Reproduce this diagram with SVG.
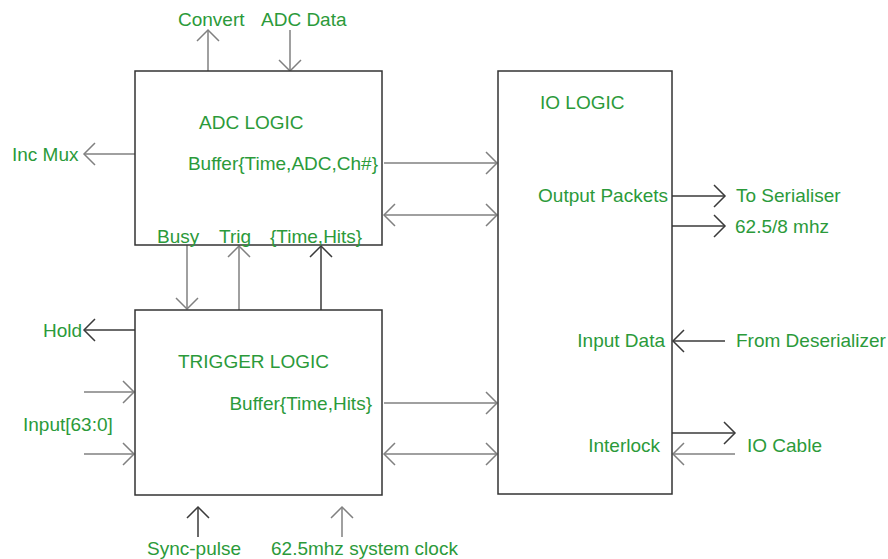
<svg xmlns="http://www.w3.org/2000/svg" width="888" height="559" viewBox="0 0 888 559">
<style>
.box{fill:#fff;stroke:#333;stroke-width:1.5}
.t{font-family:"Liberation Sans",Arial,sans-serif;font-size:19px;fill:#2b9a3a}
.g{stroke:#808080;stroke-width:1.5;fill:none}
.d{stroke:#3a3a3a;stroke-width:1.5;fill:none}
.g.a{marker-end:url(#ag)}
.d.a{marker-end:url(#ad)}
.g.b{marker-start:url(#ag);marker-end:url(#ag)}
</style>
<defs>
<marker id="ag" viewBox="-13 -12 15 24" refX="0" refY="0" markerWidth="15" markerHeight="24" markerUnits="userSpaceOnUse" orient="auto-start-reverse" overflow="visible">
<path d="M-11,-11 L0,0 L-11,11" fill="none" stroke="#808080" stroke-width="1.5"/>
</marker>
<marker id="ad" viewBox="-13 -12 15 24" refX="0" refY="0" markerWidth="15" markerHeight="24" markerUnits="userSpaceOnUse" orient="auto-start-reverse" overflow="visible">
<path d="M-11,-11 L0,0 L-11,11" fill="none" stroke="#3a3a3a" stroke-width="1.5"/>
</marker>
</defs>
<rect width="888" height="559" fill="#fff"/>
<g id="connectors">
<line class="g a" x1="208" y1="71" x2="208" y2="30"/>
<line class="g a" x1="290" y1="30" x2="290" y2="71"/>
<line class="g a" x1="135" y1="154" x2="84" y2="154"/>
<line class="g a" x1="384" y1="163" x2="497" y2="163"/>
<line class="g b" x1="384" y1="215" x2="497" y2="215"/>
<line class="g a" x1="187" y1="245" x2="187" y2="309"/>
<line class="g a" x1="239" y1="310" x2="239" y2="246"/>
<line class="d a" x1="321" y1="310" x2="321" y2="246"/>
<line class="d a" x1="135" y1="330" x2="84" y2="330"/>
<line class="g a" x1="84" y1="392" x2="134" y2="392"/>
<line class="g a" x1="84" y1="454" x2="134" y2="454"/>
<line class="g a" x1="384" y1="403" x2="497" y2="403"/>
<line class="g b" x1="384" y1="454" x2="497" y2="454"/>
<line class="d a" x1="198" y1="537" x2="198" y2="507"/>
<line class="g a" x1="342" y1="537" x2="342" y2="507"/>
<line class="d a" x1="672" y1="196" x2="725" y2="196"/>
<line class="d a" x1="672" y1="226" x2="725" y2="226"/>
<line class="d a" x1="725" y1="341" x2="673" y2="341"/>
<line class="d a" x1="672" y1="433" x2="735" y2="433"/>
<line class="g a" x1="735" y1="454" x2="673" y2="454"/>
</g>
<g id="adc-logic">
<rect class="box" x="135" y="71" width="247" height="174"/>
<text class="t" x="199" y="129">ADC LOGIC</text>
<text class="t" x="378" y="170" text-anchor="end">Buffer{Time,ADC,Ch#}</text>
<text class="t" x="157" y="243">Busy</text>
<text class="t" x="219" y="243">Trig</text>
<text class="t" x="270" y="243">{Time,Hits}</text>
</g>
<g id="trigger-logic">
<rect class="box" x="135" y="310" width="247" height="185"/>
<text class="t" x="178" y="368">TRIGGER LOGIC</text>
<text class="t" x="372" y="410" text-anchor="end">Buffer{Time,Hits}</text>
</g>
<g id="io-logic">
<rect class="box" x="498" y="71" width="174" height="423"/>
<text class="t" x="540" y="109">IO LOGIC</text>
<text class="t" x="668" y="202" text-anchor="end">Output Packets</text>
<text class="t" x="665" y="347" text-anchor="end">Input Data</text>
<text class="t" x="660" y="452" text-anchor="end">Interlock</text>
</g>
<g id="labels">
<text class="t" x="178" y="26">Convert</text>
<text class="t" x="261" y="26">ADC Data</text>
<text class="t" x="12" y="161">Inc Mux</text>
<text class="t" x="43" y="337">Hold</text>
<text class="t" x="23" y="431">Input[63:0]</text>
<text class="t" x="147" y="555">Sync-pulse</text>
<text class="t" x="271" y="555">62.5mhz system clock</text>
<text class="t" x="736" y="202">To Serialiser</text>
<text class="t" x="735" y="233">62.5/8 mhz</text>
<text class="t" x="736" y="347">From Deserializer</text>
<text class="t" x="747" y="452">IO Cable</text>
</g>
</svg>
